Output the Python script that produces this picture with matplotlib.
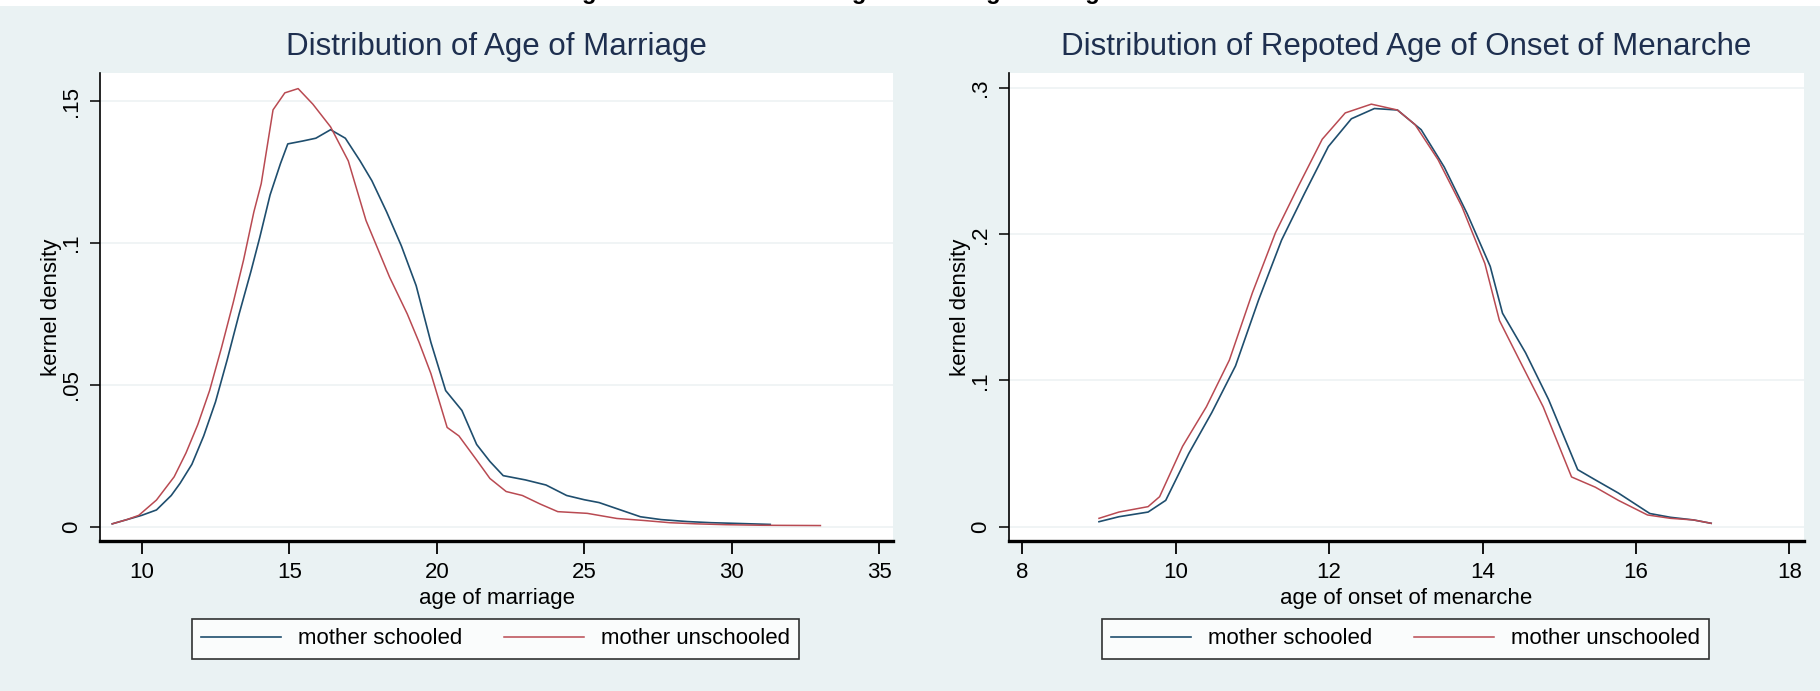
import numpy as np
import matplotlib
matplotlib.use("Agg")
import matplotlib.pyplot as plt
from matplotlib.lines import Line2D
from matplotlib.patches import Rectangle

plt.rcParams['font.family'] = ['Liberation Sans', 'DejaVu Sans']

# Age of marriage, kernel density
marr_x_school = [9.0, 9.5, 10.0, 10.5, 11.0, 11.3, 11.7, 12.1, 12.5, 12.9, 13.3, 13.7, 14.0, 14.35, 14.7,
                 14.95, 15.45, 15.9, 16.4, 16.9, 17.4, 17.8, 18.3, 18.8, 19.3, 19.8, 20.3, 20.85, 21.35,
                 21.8, 22.25, 23.0, 23.7, 24.4, 25.0, 25.5, 26.2, 26.9, 27.6, 28.5, 29.3, 30.0, 31.3]
marr_y_school = [0.001, 0.0025, 0.004, 0.0059, 0.011, 0.0153, 0.022, 0.032, 0.044, 0.059, 0.075, 0.09, 0.102,
                 0.117, 0.128, 0.135, 0.136, 0.137, 0.140, 0.137, 0.129, 0.122, 0.111, 0.099, 0.085, 0.065,
                 0.048, 0.041, 0.029, 0.023, 0.018, 0.0165, 0.0147, 0.011, 0.0095, 0.0085, 0.006, 0.0035,
                 0.0025, 0.0018, 0.0014, 0.0012, 0.0008]
marr_x_unsch = [9.0, 9.5, 9.9, 10.5, 11.1, 11.5, 11.9, 12.3, 12.7, 13.1, 13.45, 13.8, 14.05, 14.45, 14.85,
                15.3, 15.8, 16.4, 17.0, 17.6, 18.0, 18.4, 19.0, 19.4, 19.8, 20.35, 20.75, 21.35, 21.8, 22.35,
                22.9, 23.5, 24.1, 25.1, 26.1, 27.0, 27.9, 28.8, 29.8, 31.0, 33.0]
marr_y_unsch = [0.001, 0.0025, 0.004, 0.0094, 0.0176, 0.026, 0.036, 0.048, 0.063, 0.079, 0.094, 0.111, 0.121,
                0.147, 0.153, 0.1545, 0.149, 0.141, 0.129, 0.108, 0.098, 0.088, 0.075, 0.065, 0.054, 0.035,
                0.032, 0.0235, 0.017, 0.0124, 0.011, 0.008, 0.0053, 0.0047, 0.0029, 0.0022, 0.0014, 0.001,
                0.0007, 0.0005, 0.0004]

# Age of onset of menarche, kernel density
men_x_school = [9.0, 9.26, 9.64, 9.87, 10.17, 10.47, 10.78, 11.08, 11.38, 11.68, 11.99, 12.29, 12.59, 12.89,
                13.2, 13.5, 13.8, 14.1, 14.26, 14.56, 14.86, 15.24, 15.47, 15.77, 16.18, 16.45, 16.75, 16.98]
men_y_school = [0.0034, 0.0068, 0.010, 0.018, 0.050, 0.078, 0.110, 0.155, 0.196, 0.228, 0.260, 0.279, 0.286,
                0.285, 0.2715, 0.246, 0.214, 0.178, 0.146, 0.119, 0.087, 0.039, 0.032, 0.023, 0.009, 0.0064,
                0.0046, 0.0023]
men_x_unsch = [9.0, 9.26, 9.64, 9.79, 10.09, 10.4, 10.7, 11.0, 11.3, 11.6, 11.91, 12.21, 12.55, 12.89, 13.12,
               13.42, 13.73, 14.03, 14.22, 14.48, 14.79, 15.16, 15.47, 15.77, 16.15, 16.45, 16.75, 16.98]
men_y_unsch = [0.0057, 0.010, 0.0137, 0.0205, 0.055, 0.082, 0.114, 0.160, 0.201, 0.233, 0.265, 0.283, 0.289,
               0.285, 0.275, 0.251, 0.219, 0.180, 0.141, 0.114, 0.082, 0.034, 0.027, 0.018, 0.008, 0.0057,
               0.0046, 0.0023]

marr_xticks = [10, 15, 20, 25, 30, 35]
marr_yticks = [0, 0.05, 0.1, 0.15]
marr_yticklabels = ['0', '.05', '.1', '.15']
men_xticks = [8, 10, 12, 14, 16, 18]
men_yticks = [0, 0.1, 0.2, 0.3]
men_yticklabels = ['0', '.1', '.2', '.3']

series_names = ['mother schooled', 'mother unschooled']
col_school = '#1f4e6e'
col_unsch = '#b94a52'
bg = '#eaf2f3'

fig = plt.figure(figsize=(18.2, 6.91), dpi=100, facecolor=bg)

# white page strip on top with the clipped caption of the document
fig.add_artist(Rectangle((0, 1 - 6 / 691), 1, 6 / 691, transform=fig.transFigure,
                         facecolor='white', edgecolor='none'))
fig.text(0.5, 1 + 1 / 691, 'Figure 2: Distribution of Age of Marriage and Age of Menarche',
         ha='center', va='baseline', fontsize=17, fontweight='bold', color='black')


def panel(ax, title, xs, ys, xlim, ylim, xticks, yticks, yticklabels, xlabel):
    ax.set_facecolor('white')
    for yt in yticks:
        ax.axhline(yt, color='#edf2f3', lw=1.2, zorder=0)
    ax.plot(xs[0], ys[0], color=col_school, lw=1.2)
    ax.plot(xs[1], ys[1], color=col_unsch, lw=1.1)
    ax.set_xlim(*xlim)
    ax.set_ylim(*ylim)
    ax.set_xticks(xticks)
    ax.set_yticks(yticks)
    ax.set_yticklabels(yticklabels, rotation=90, va='center')
    ax.tick_params(axis='x', length=9, width=1.3, labelsize=16, pad=6)
    ax.tick_params(axis='y', length=7, width=1.1, labelsize=16, pad=6)
    for s in ['top', 'right']:
        ax.spines[s].set_visible(False)
    ax.spines['bottom'].set_linewidth(2.4)
    ax.spines['left'].set_linewidth(1.2)
    ax.set_title(title, fontsize=22.5, color='#1e2f4f', pad=13)
    ax.set_xlabel(xlabel, fontsize=16, labelpad=4)
    ax.set_ylabel('kernel density', fontsize=16, labelpad=-1)
    handles = [Line2D([0], [0], color=col_school, lw=1.2), Line2D([0], [0], color=col_unsch, lw=1.1)]
    leg = ax.legend(handles, series_names, loc='upper center', bbox_to_anchor=(0.499, -0.143), ncol=2,
                    fontsize=16, frameon=True, fancybox=False, edgecolor='black', handlelength=3.6,
                    handletextpad=0.75, columnspacing=1.9, borderpad=0.42)
    leg.get_frame().set_linewidth(1.2)


ax1 = fig.add_axes([100 / 1820, 1 - 541 / 691, 793 / 1820, 468 / 691])
panel(ax1, 'Distribution of Age of Marriage', [marr_x_school, marr_x_unsch], [marr_y_school, marr_y_unsch],
      (8.586, 35.46), (-0.00505, 0.160), marr_xticks, marr_yticks, marr_yticklabels, 'age of marriage')

ax2 = fig.add_axes([1009 / 1820, 1 - 541 / 691, 795 / 1820, 468 / 691])
panel(ax2, 'Distribution of Repoted Age of Onset of Menarche', [men_x_school, men_x_unsch],
      [men_y_school, men_y_unsch], (7.827, 18.19), (-0.0098, 0.3103), men_xticks, men_yticks,
      men_yticklabels, 'age of onset of menarche')

fig.savefig('out.png', dpi=100, facecolor=bg)
